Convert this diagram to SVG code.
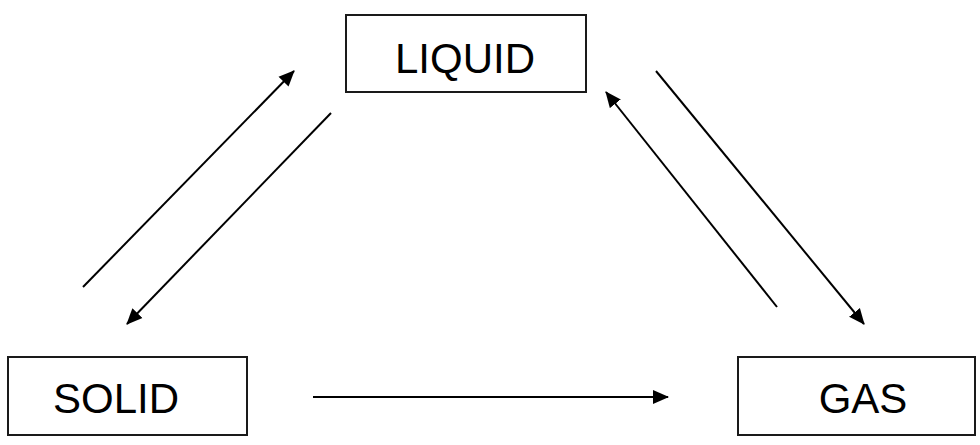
<svg xmlns="http://www.w3.org/2000/svg" width="980" height="445" viewBox="0 0 980 445">
  <style>
    .box { fill: #ffffff; stroke: #1a1a1a; stroke-width: 2; }
    .lbl { font-family: "Liberation Sans", Arial, sans-serif; font-size: 42px; fill: #000000; text-anchor: middle; }
    .conn { stroke: #000000; stroke-width: 2; fill: none; marker-end: url(#arrow); }
  </style>
  <defs>
    <marker id="arrow" markerUnits="userSpaceOnUse" markerWidth="16" markerHeight="16" viewBox="0 0 16 16" refX="15" refY="8" orient="auto">
      <path d="M0,1 L16,8 L0,15 Z" fill="#000000"/>
    </marker>
  </defs>
  <rect x="0" y="0" width="980" height="445" fill="#ffffff"/>
  <g id="liquid">
    <rect class="box" x="346" y="15" width="240" height="77"/>
    <text class="lbl" x="465" y="73">LIQUID</text>
  </g>
  <g id="solid">
    <rect class="box" x="8" y="357" width="239" height="78"/>
    <text class="lbl" x="116" y="413">SOLID</text>
  </g>
  <g id="gas">
    <rect class="box" x="738" y="357" width="237" height="78"/>
    <text class="lbl" x="863" y="413">GAS</text>
  </g>
  <g id="connectors">
    <line class="conn" x1="83" y1="287" x2="294" y2="71"/>
    <line class="conn" x1="331" y1="113" x2="127" y2="324"/>
    <line class="conn" x1="777" y1="307" x2="606" y2="92"/>
    <line class="conn" x1="656" y1="71" x2="864" y2="324"/>
    <line class="conn" x1="313" y1="397" x2="668" y2="397"/>
  </g>
</svg>
